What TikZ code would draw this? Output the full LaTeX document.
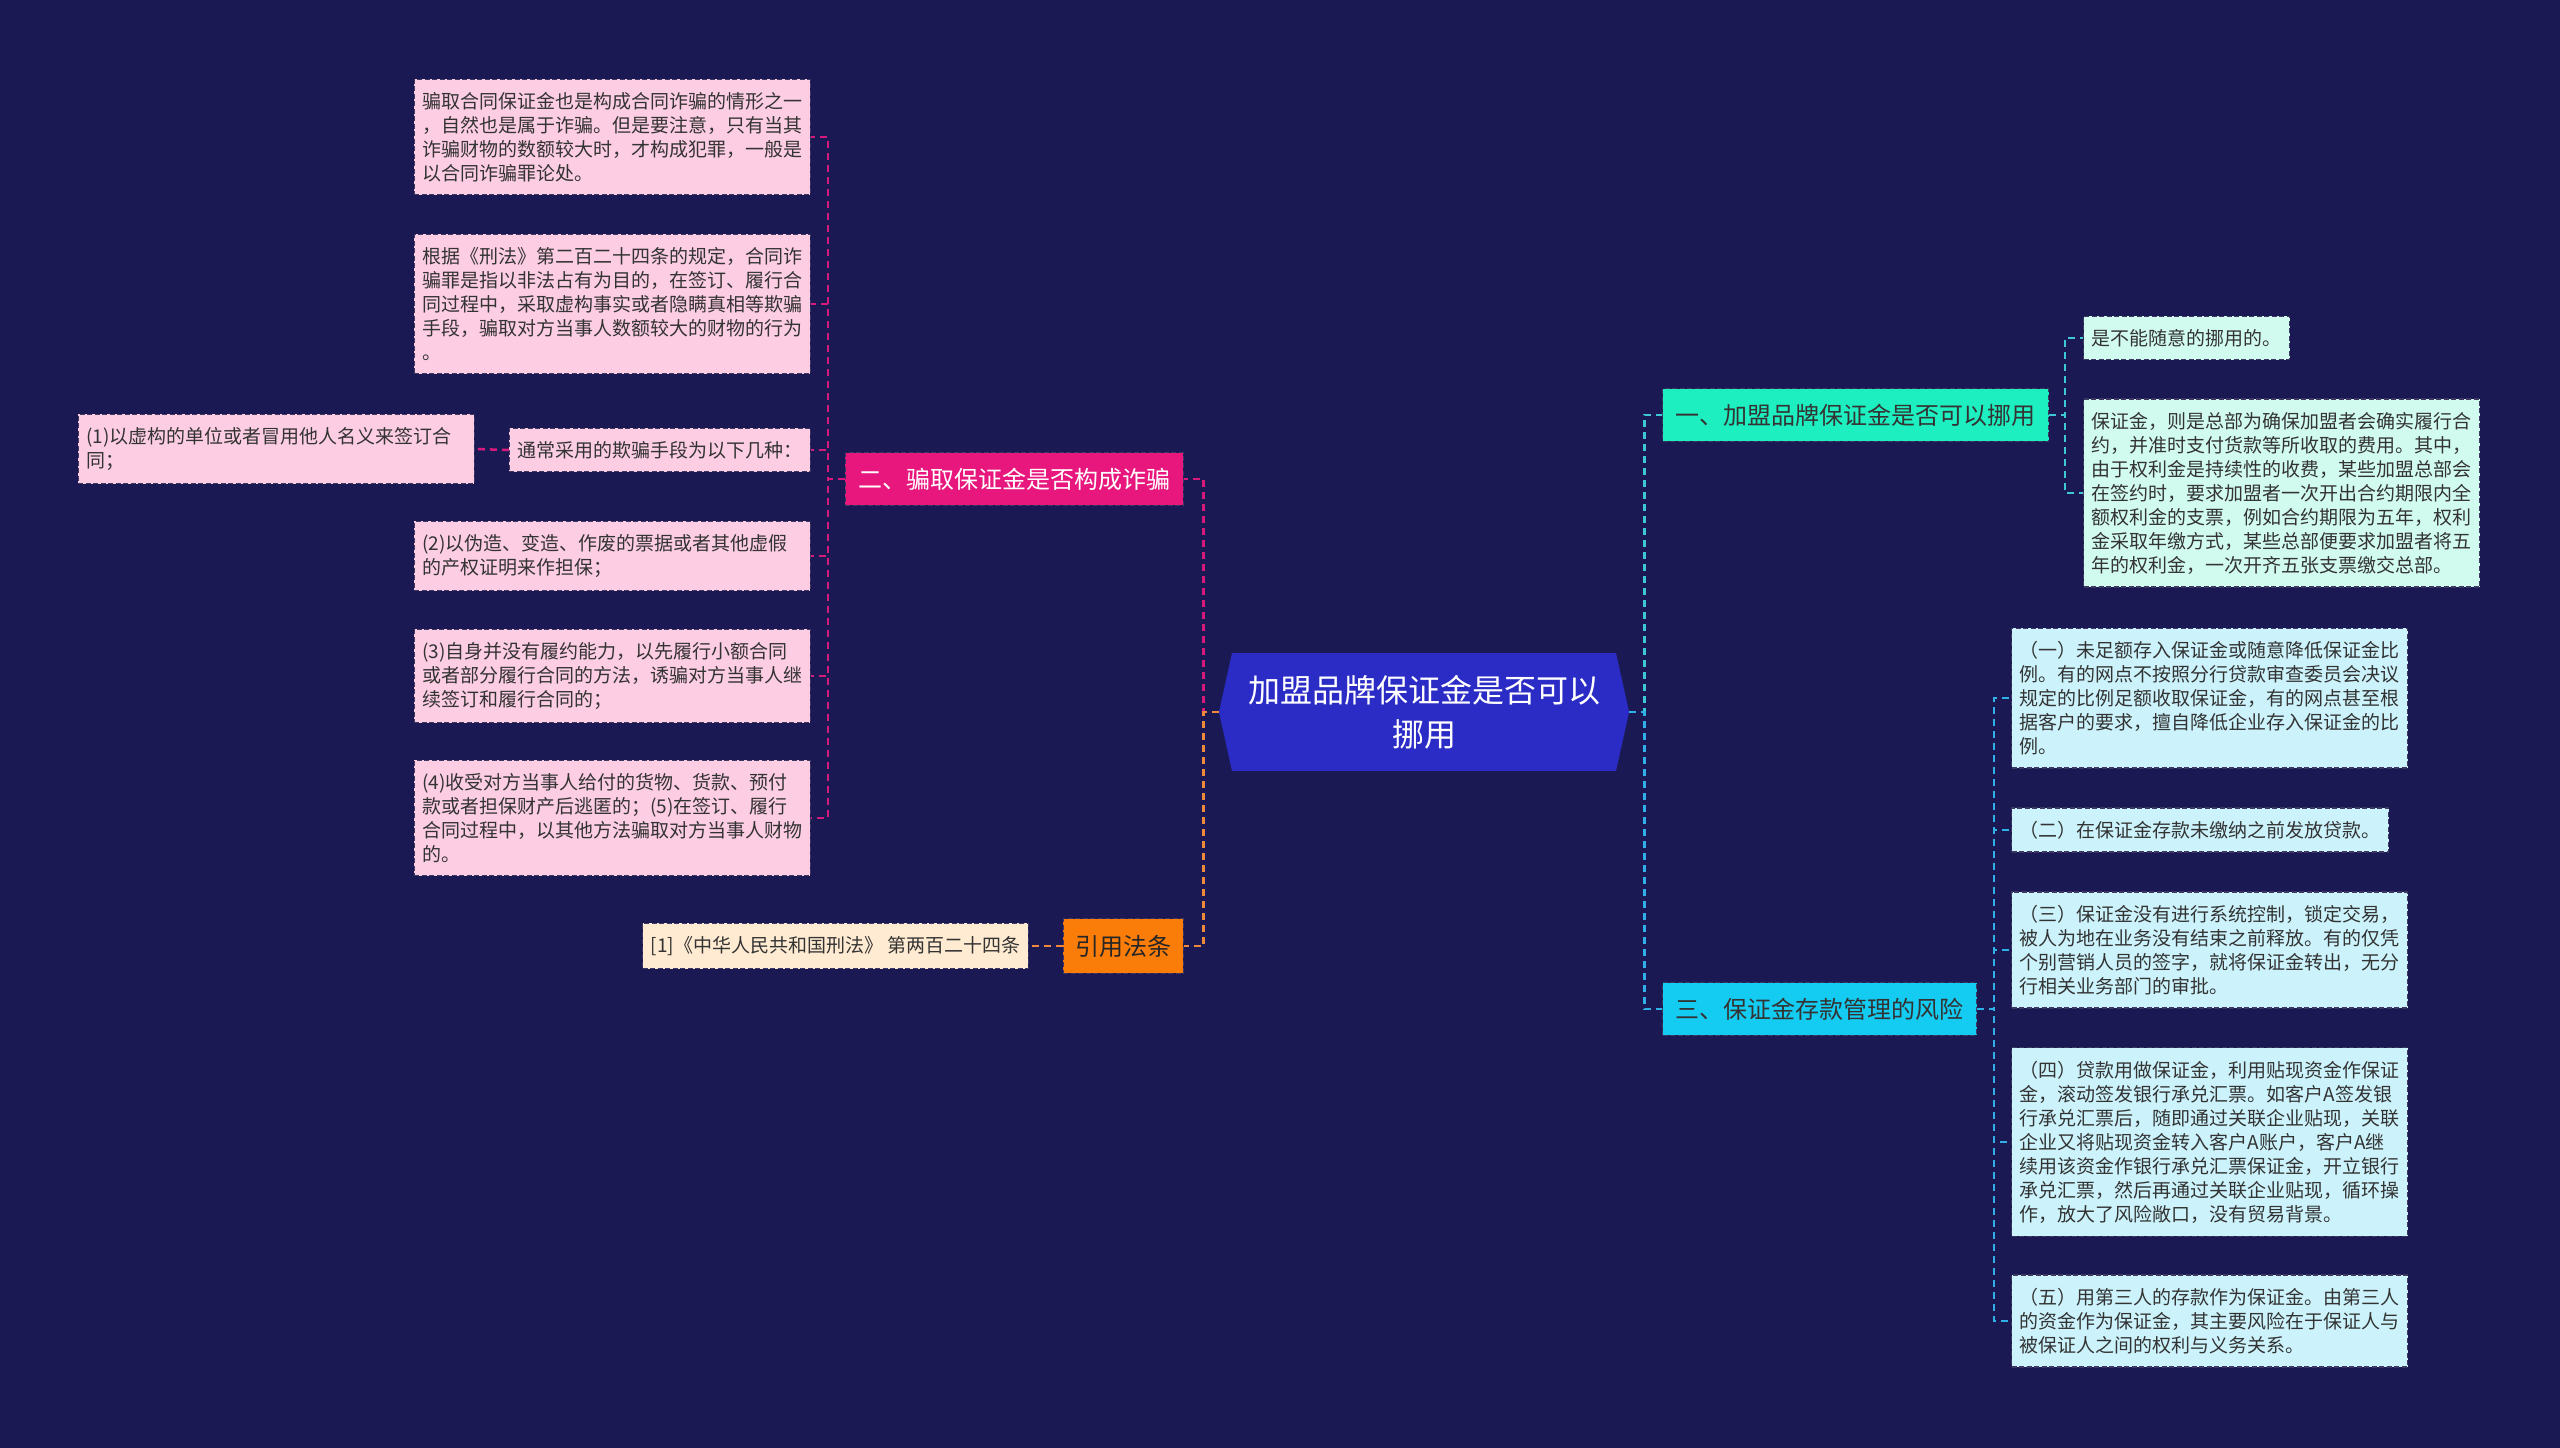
\documentclass[tikz,border=0pt]{standalone}
\usepackage{fontspec}
\newfontfamily\cjk{Noto Sans CJK SC}
\usetikzlibrary{shapes.symbols}
\definecolor{bgnavy}{HTML}{1B1954}
\definecolor{rootblue}{HTML}{2B2CC6}
\definecolor{edgegray}{HTML}{3C3862}
\definecolor{pinkbranch}{HTML}{E8177E}
\definecolor{pinkleaf}{HTML}{FCCDE3}
\definecolor{orangebranch}{HTML}{FA7D0A}
\definecolor{citeleaf}{HTML}{FFEBD2}
\definecolor{tealbranch}{HTML}{1EEFC0}
\definecolor{tealleaf}{HTML}{D2FBF0}
\definecolor{cyanbranch}{HTML}{14CBF2}
\definecolor{cyanleaf}{HTML}{CCF3FC}
\definecolor{linkpink}{HTML}{D6197A}
\definecolor{linkorange}{HTML}{F0893A}
\definecolor{linkteal}{HTML}{3CC8D6}
\definecolor{linkcyan}{HTML}{2FB0E6}

\begin{document}
\begin{tikzpicture}[x=1pt, y=-1pt,
	every node/.style={font=\cjk\fontsize{19}{24}\selectfont, inner xsep=8pt, inner ysep=13pt, align=left},
	leaf/.style={draw=edgegray, line width=1.2pt, dash pattern=on 5pt off 2.5pt, text=black!80},
	wide/.style={text width=380pt},
	branch/.style={draw=edgegray, line width=1.2pt, dash pattern=on 5pt off 2.5pt, font=\cjk\fontsize{24}{30}\selectfont, inner xsep=13pt, inner ysep=15pt},
	root/.style={signal, signal to=east and west, signal pointer angle=155, fill=rootblue, text=white, font=\cjk\fontsize{32}{44}\selectfont, align=center, inner xsep=16pt, inner ysep=22pt},
	link/.style={line width=2.5pt, dash pattern=on 7pt off 5pt}]
	\fill[bgnavy] (0,0) rectangle (2560,1448);
	\useasboundingbox (0,0) rectangle (2560,1448);

	\node[root] (root) at (1424,712) {加盟品牌保证金是否可以\\挪用};

	\node[branch, fill=pinkbranch, text=white, anchor=east] (b2) at (1184,479) {二、骗取保证金是否构成诈骗};
	\node[branch, fill=orangebranch, text=black!85, anchor=east, inner xsep=12pt, inner ysep=16pt] (b3) at (1184,946) {引用法条};
	\node[branch, fill=tealbranch, text=black!80, anchor=west] (r1) at (1662,415) {一、加盟品牌保证金是否可以挪用};
	\node[branch, fill=cyanbranch, text=black!80, anchor=west] (r3) at (1662,1009) {三、保证金存款管理的风险};

	\node[leaf, wide, fill=pinkleaf, anchor=east] (p1) at (811,137) {骗取合同保证金也是构成合同诈骗的情形之一\\，自然也是属于诈骗。但是要注意，只有当其\\诈骗财物的数额较大时，才构成犯罪，一般是\\以合同诈骗罪论处。};
	\node[leaf, wide, fill=pinkleaf, anchor=east] (p2) at (811,304) {根据《刑法》第二百二十四条的规定，合同诈\\骗罪是指以非法占有为目的，在签订、履行合\\同过程中，采取虚构事实或者隐瞒真相等欺骗\\手段，骗取对方当事人数额较大的财物的行为\\。};
	\node[leaf, fill=pinkleaf, anchor=east] (p3) at (811,450) {通常采用的欺骗手段为以下几种：};
	\node[leaf, wide, fill=pinkleaf, anchor=east] (q1) at (475,449) {(1)以虚构的单位或者冒用他人名义来签订合\\同；};
	\node[leaf, wide, fill=pinkleaf, anchor=east] (p4) at (811,556) {(2)以伪造、变造、作废的票据或者其他虚假\\的产权证明来作担保；};
	\node[leaf, wide, fill=pinkleaf, anchor=east] (p5) at (811,676) {(3)自身并没有履约能力，以先履行小额合同\\或者部分履行合同的方法，诱骗对方当事人继\\续签订和履行合同的；};
	\node[leaf, wide, fill=pinkleaf, anchor=east] (p6) at (811,818) {(4)收受对方当事人给付的货物、货款、预付\\款或者担保财产后逃匿的；(5)在签订、履行\\合同过程中，以其他方法骗取对方当事人财物\\的。};
	\node[leaf, fill=citeleaf, anchor=east] (cite) at (1029,946) {[1]《中华人民共和国刑法》 第两百二十四条};

	\node[leaf, fill=tealleaf, anchor=west] (t1) at (2083,338) {是不能随意的挪用的。};
	\node[leaf, wide, fill=tealleaf, anchor=west] (t2) at (2083,493) {保证金，则是总部为确保加盟者会确实履行合\\约，并准时支付货款等所收取的费用。其中，\\由于权利金是持续性的收费，某些加盟总部会\\在签约时，要求加盟者一次开出合约期限内全\\额权利金的支票，例如合约期限为五年，权利\\金采取年缴方式，某些总部便要求加盟者将五\\年的权利金，一次开齐五张支票缴交总部。};

	\node[leaf, wide, fill=cyanleaf, anchor=west] (c1) at (2011,698) {（一）未足额存入保证金或随意降低保证金比\\例。有的网点不按照分行贷款审查委员会决议\\规定的比例足额收取保证金，有的网点甚至根\\据客户的要求，擅自降低企业存入保证金的比\\例。};
	\node[leaf, fill=cyanleaf, anchor=west] (c2) at (2011,830) {（二）在保证金存款未缴纳之前发放贷款。};
	\node[leaf, wide, fill=cyanleaf, anchor=west] (c3) at (2011,950) {（三）保证金没有进行系统控制，锁定交易，\\被人为地在业务没有结束之前释放。有的仅凭\\个别营销人员的签字，就将保证金转出，无分\\行相关业务部门的审批。};
	\node[leaf, wide, fill=cyanleaf, anchor=west] (c4) at (2011,1142) {（四）贷款用做保证金，利用贴现资金作保证\\金，滚动签发银行承兑汇票。如客户A签发银\\行承兑汇票后，随即通过关联企业贴现，关联\\企业又将贴现资金转入客户A账户，客户A继\\续用该资金作银行承兑汇票保证金，开立银行\\承兑汇票，然后再通过关联企业贴现，循环操\\作，放大了风险敞口，没有贸易背景。};
	\node[leaf, wide, fill=cyanleaf, anchor=west] (c5) at (2011,1321) {（五）用第三人的存款作为保证金。由第三人\\的资金作为保证金，其主要风险在于保证人与\\被保证人之间的权利与义务关系。};

	\draw[link, linkpink] (root.west) -- ++(-15,0) |- (b2.east);
	\draw[link, linkorange] (root.west) -- ++(-15,0) |- (b3.east);
	\draw[link, linkorange] (b3.west) -- (cite.east);
	\foreach \i in {1,...,6}
		\draw[link, linkpink] (b2.west) -- ++(-17,0) |- (p\i.east);
	\draw[link, linkpink] (p3.west) -- (q1.east);
	\draw[link, linkteal] (root.east) -- ++(15,0) |- (r1.west);
	\draw[link, linkcyan] (root.east) -- ++(15,0) |- (r3.west);
	\foreach \i in {1,2}
		\draw[link, linkteal] (r1.east) -- ++(16,0) |- (t\i.west);
	\foreach \i in {1,...,5}
		\draw[link, linkcyan] (r3.east) -- ++(17,0) |- (c\i.west);
\end{tikzpicture}
\end{document}
